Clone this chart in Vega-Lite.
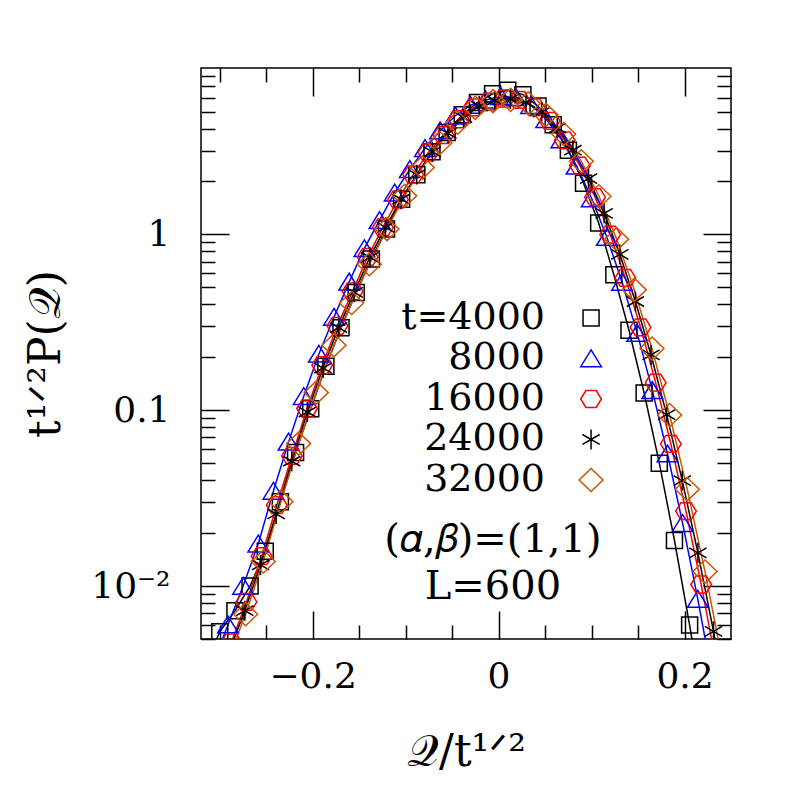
{
  "$schema": "https://vega.github.io/schema/vega-lite/v6.json",
  "width": 530,
  "height": 571,
  "autosize": {"type": "none"},
  "padding": {"left": 201, "top": 68, "right": 66, "bottom": 158},
  "background": "white",
  "config": {
    "view": {"stroke": "#000", "strokeWidth": 1.5},
    "font": "DejaVu Serif",
    "axis": {"domain": false, "grid": false, "tickColor": "#000", "tickWidth": 1.5, "labelFont": "DejaVu Serif", "labelFontSize": 36, "labelColor": "#000", "titleFont": "DejaVu Serif", "titleFontSize": 44, "titleFontWeight": "normal", "titleColor": "#000", "labelFlush": false, "labelOverlap": false}
  },
  "data": {"values": [
    {"t":"4000","q":-0.3161,"p":0.0035},
    {"t":"4000","q":-0.2998,"p":0.0055},
    {"t":"4000","q":-0.2835,"p":0.00724},
    {"t":"4000","q":-0.2672,"p":0.0100},
    {"t":"4000","q":-0.2509,"p":0.0158},
    {"t":"4000","q":-0.2346,"p":0.0302},
    {"t":"4000","q":-0.2183,"p":0.0575},
    {"t":"4000","q":-0.2020,"p":0.102},
    {"t":"4000","q":-0.1857,"p":0.178},
    {"t":"4000","q":-0.1694,"p":0.295},
    {"t":"4000","q":-0.1531,"p":0.468},
    {"t":"4000","q":-0.1368,"p":0.724},
    {"t":"4000","q":-0.1205,"p":1.072},
    {"t":"4000","q":-0.1042,"p":1.585},
    {"t":"4000","q":-0.0879,"p":2.188},
    {"t":"4000","q":-0.0716,"p":2.951},
    {"t":"4000","q":-0.0553,"p":3.802},
    {"t":"4000","q":-0.0390,"p":4.786},
    {"t":"4000","q":-0.0227,"p":5.623},
    {"t":"4000","q":-0.0064,"p":6.310},
    {"t":"4000","q":0.0099,"p":6.607},
    {"t":"4000","q":0.0262,"p":6.237},
    {"t":"4000","q":0.0425,"p":5.370},
    {"t":"4000","q":0.0588,"p":4.207},
    {"t":"4000","q":0.0751,"p":3.006},
    {"t":"4000","q":0.0914,"p":1.954},
    {"t":"4000","q":0.1077,"p":1.161},
    {"t":"4000","q":0.1240,"p":0.589},
    {"t":"4000","q":0.1403,"p":0.285},
    {"t":"4000","q":0.1566,"p":0.1253},
    {"t":"4000","q":0.1729,"p":0.0500},
    {"t":"4000","q":0.1892,"p":0.01816},
    {"t":"4000","q":0.2055,"p":0.0060},
    {"t":"4000","q":0.2218,"p":0.0018},
    {"t":"8000","q":-0.3073,"p":0.0036},
    {"t":"8000","q":-0.2910,"p":0.00603},
    {"t":"8000","q":-0.2747,"p":0.0100},
    {"t":"8000","q":-0.2584,"p":0.0174},
    {"t":"8000","q":-0.2421,"p":0.0347},
    {"t":"8000","q":-0.2258,"p":0.0661},
    {"t":"8000","q":-0.2095,"p":0.120},
    {"t":"8000","q":-0.1932,"p":0.209},
    {"t":"8000","q":-0.1769,"p":0.339},
    {"t":"8000","q":-0.1606,"p":0.537},
    {"t":"8000","q":-0.1443,"p":0.832},
    {"t":"8000","q":-0.1280,"p":1.202},
    {"t":"8000","q":-0.1117,"p":1.726},
    {"t":"8000","q":-0.0954,"p":2.344},
    {"t":"8000","q":-0.0791,"p":3.090},
    {"t":"8000","q":-0.0628,"p":3.890},
    {"t":"8000","q":-0.0465,"p":4.732},
    {"t":"8000","q":-0.0302,"p":5.433},
    {"t":"8000","q":-0.0139,"p":5.821},
    {"t":"8000","q":0.0024,"p":6.095},
    {"t":"8000","q":0.0187,"p":6.012},
    {"t":"8000","q":0.0350,"p":5.427},
    {"t":"8000","q":0.0513,"p":4.519},
    {"t":"8000","q":0.0676,"p":3.467},
    {"t":"8000","q":0.0839,"p":2.452},
    {"t":"8000","q":0.1002,"p":1.600},
    {"t":"8000","q":0.1165,"p":0.964},
    {"t":"8000","q":0.1328,"p":0.536},
    {"t":"8000","q":0.1491,"p":0.2745},
    {"t":"8000","q":0.1654,"p":0.1297},
    {"t":"8000","q":0.1817,"p":0.0566},
    {"t":"8000","q":0.1980,"p":0.02275},
    {"t":"8000","q":0.2143,"p":0.00843},
    {"t":"8000","q":0.2306,"p":0.00288},
    {"t":"16000","q":-0.3037,"p":0.00295},
    {"t":"16000","q":-0.2874,"p":0.00479},
    {"t":"16000","q":-0.2711,"p":0.00813},
    {"t":"16000","q":-0.2548,"p":0.01479},
    {"t":"16000","q":-0.2385,"p":0.02884},
    {"t":"16000","q":-0.2222,"p":0.0550},
    {"t":"16000","q":-0.2059,"p":0.1023},
    {"t":"16000","q":-0.1896,"p":0.1803},
    {"t":"16000","q":-0.1733,"p":0.302},
    {"t":"16000","q":-0.1570,"p":0.474},
    {"t":"16000","q":-0.1407,"p":0.745},
    {"t":"16000","q":-0.1244,"p":1.096},
    {"t":"16000","q":-0.1081,"p":1.578},
    {"t":"16000","q":-0.0918,"p":2.188},
    {"t":"16000","q":-0.0755,"p":2.924},
    {"t":"16000","q":-0.0592,"p":3.673},
    {"t":"16000","q":-0.0429,"p":4.519},
    {"t":"16000","q":-0.0266,"p":5.272},
    {"t":"16000","q":-0.0103,"p":5.689},
    {"t":"16000","q":0.0060,"p":5.929},
    {"t":"16000","q":0.0223,"p":5.821},
    {"t":"16000","q":0.0386,"p":5.281},
    {"t":"16000","q":0.0549,"p":4.426},
    {"t":"16000","q":0.0712,"p":3.428},
    {"t":"16000","q":0.0875,"p":2.459},
    {"t":"16000","q":0.1038,"p":1.629},
    {"t":"16000","q":0.1201,"p":0.998},
    {"t":"16000","q":0.1364,"p":0.5655},
    {"t":"16000","q":0.1527,"p":0.2963},
    {"t":"16000","q":0.1690,"p":0.1435},
    {"t":"16000","q":0.1853,"p":0.0643},
    {"t":"16000","q":0.2016,"p":0.02665},
    {"t":"16000","q":0.2179,"p":0.01021},
    {"t":"16000","q":0.2342,"p":0.00361},
    {"t":"24000","q":-0.3064,"p":0.00257},
    {"t":"24000","q":-0.2896,"p":0.00427},
    {"t":"24000","q":-0.2728,"p":0.00724},
    {"t":"24000","q":-0.2560,"p":0.01318},
    {"t":"24000","q":-0.2392,"p":0.0257},
    {"t":"24000","q":-0.2224,"p":0.0513},
    {"t":"24000","q":-0.2056,"p":0.0977},
    {"t":"24000","q":-0.1888,"p":0.1738},
    {"t":"24000","q":-0.1720,"p":0.295},
    {"t":"24000","q":-0.1552,"p":0.468},
    {"t":"24000","q":-0.1384,"p":0.741},
    {"t":"24000","q":-0.1216,"p":1.096},
    {"t":"24000","q":-0.1048,"p":1.585},
    {"t":"24000","q":-0.0880,"p":2.188},
    {"t":"24000","q":-0.0712,"p":2.951},
    {"t":"24000","q":-0.0544,"p":3.758},
    {"t":"24000","q":-0.0376,"p":4.624},
    {"t":"24000","q":-0.0208,"p":5.370},
    {"t":"24000","q":-0.0040,"p":5.781},
    {"t":"24000","q":0.0128,"p":5.888},
    {"t":"24000","q":0.0296,"p":5.630},
    {"t":"24000","q":0.0464,"p":4.961},
    {"t":"24000","q":0.0632,"p":4.027},
    {"t":"24000","q":0.0800,"p":3.011},
    {"t":"24000","q":0.0968,"p":2.075},
    {"t":"24000","q":0.1136,"p":1.317},
    {"t":"24000","q":0.1304,"p":0.770},
    {"t":"24000","q":0.1472,"p":0.4154},
    {"t":"24000","q":0.1640,"p":0.2063},
    {"t":"24000","q":0.1808,"p":0.0944},
    {"t":"24000","q":0.1976,"p":0.0398},
    {"t":"24000","q":0.2144,"p":0.01546},
    {"t":"24000","q":0.2312,"p":0.00553},
    {"t":"24000","q":0.2480,"p":0.00182},
    {"t":"32000","q":-0.3100,"p":0.0022},
    {"t":"32000","q":-0.2910,"p":0.0038},
    {"t":"32000","q":-0.2720,"p":0.00692},
    {"t":"32000","q":-0.2530,"p":0.0138},
    {"t":"32000","q":-0.2340,"p":0.0302},
    {"t":"32000","q":-0.2150,"p":0.0646},
    {"t":"32000","q":-0.1960,"p":0.126},
    {"t":"32000","q":-0.1770,"p":0.234},
    {"t":"32000","q":-0.1580,"p":0.407},
    {"t":"32000","q":-0.1390,"p":0.676},
    {"t":"32000","q":-0.1200,"p":1.072},
    {"t":"32000","q":-0.1010,"p":1.660},
    {"t":"32000","q":-0.0820,"p":2.399},
    {"t":"32000","q":-0.0630,"p":3.311},
    {"t":"32000","q":-0.0440,"p":4.315},
    {"t":"32000","q":-0.0250,"p":5.248},
    {"t":"32000","q":-0.0060,"p":5.728},
    {"t":"32000","q":0.0130,"p":5.821},
    {"t":"32000","q":0.0320,"p":5.559},
    {"t":"32000","q":0.0510,"p":4.786},
    {"t":"32000","q":0.0700,"p":3.721},
    {"t":"32000","q":0.0890,"p":2.608},
    {"t":"32000","q":0.1080,"p":1.649},
    {"t":"32000","q":0.1270,"p":0.940},
    {"t":"32000","q":0.1460,"p":0.4839},
    {"t":"32000","q":0.1650,"p":0.2245},
    {"t":"32000","q":0.1840,"p":0.0940},
    {"t":"32000","q":0.2030,"p":0.0355},
    {"t":"32000","q":0.2220,"p":0.01209},
    {"t":"32000","q":0.2410,"p":0.00372}
  ]},
  "layer": [
    {
      "mark": {"type": "line", "strokeWidth": 1.5, "clip": true},
      "encoding": {
        "x": {"field": "q", "type": "quantitative", "scale": {"domain": [-0.32, 0.25], "nice": false, "zero": false},
          "axis": {"orient": "bottom", "values": [-0.2, 0, 0.2], "tickSize": -28, "labelPadding": 48, "labelExpr": "datum.value == 0 ? '0' : (datum.value < 0 ? '−0.2' : '0.2')", "title": "𝒬/t¹ᐟ²", "titlePadding": 36}},
        "y": {"field": "p", "type": "quantitative", "scale": {"type": "log", "domain": [0.005, 8.84], "nice": false},
          "axis": {"orient": "left", "values": [0.01, 0.1, 1], "tickSize": -28, "labelPadding": 59, "labelExpr": "datum.value < 0.05 ? '10⁻²' : (datum.value < 0.5 ? '0.1' : '1')", "title": "t¹ᐟ²P(𝒬)", "titlePadding": 22}},
        "stroke": {"field": "t", "type": "nominal", "scale": {"domain": ["4000", "8000", "16000", "24000", "32000"], "range": ["#000000", "#0000ff", "#ff0000", "#000000", "#cc5500"]}, "legend": null}
      }
    },
    {
      "mark": {"type": "point", "filled": false, "strokeWidth": 1.5, "size": 576, "opacity": 1, "clip": true},
      "encoding": {
        "x": {"field": "q", "type": "quantitative", "scale": {"domain": [-0.32, 0.25], "nice": false, "zero": false},
          "axis": {"orient": "bottom", "values": [-0.3, -0.25, -0.15, -0.1, -0.05, 0.05, 0.1, 0.15], "tickSize": -14, "labels": false, "title": null}},
        "y": {"field": "p", "type": "quantitative", "scale": {"type": "log", "domain": [0.005, 8.84], "nice": false},
          "axis": {"orient": "left", "values": [0.005, 0.006, 0.007, 0.008, 0.009, 0.02, 0.03, 0.04, 0.05, 0.06, 0.07, 0.08, 0.09, 0.2, 0.3, 0.4, 0.5, 0.6, 0.7, 0.8, 0.9, 2, 3, 4, 5, 6, 7, 8], "tickSize": -14, "labels": false, "title": null}},
        "color": {"field": "t", "type": "nominal", "scale": {"domain": ["4000", "8000", "16000", "24000", "32000"], "range": ["#000000", "#0000ff", "#ff0000", "#000000", "#cc5500"]}, "legend": null},
        "shape": {"field": "t", "type": "nominal", "scale": {"domain": ["4000", "8000", "16000", "24000", "32000"], "range": [
            "M-0.667,-0.667L0.667,-0.667L0.667,0.667L-0.667,0.667Z",
            "M0,-0.72L0.86,0.68L-0.86,0.68Z",
            "M-0.86,0L-0.43,-0.7L0.43,-0.7L0.86,0L0.43,0.7L-0.43,0.7Z",
            "M0,-0.83L0,0.83M-0.72,-0.415L0.72,0.415M-0.72,0.415L0.72,-0.415",
            "M0,-0.96L1,0L0,0.96L-1,0Z"]}, "legend": null}
      }
    },
    {
      "data": {"values": [{}]},
      "mark": {"type": "text", "text": "(𝛼,𝛽)=(1,1)", "font": "DejaVu Serif", "fontSize": 40, "align": "center", "baseline": "middle", "color": "#000"},
      "encoding": {
        "x": {"datum": -0.006, "type": "quantitative", "scale": {"domain": [-0.32, 0.25], "nice": false, "zero": false},
          "axis": {"orient": "top", "values": [-0.2, 0, 0.2], "tickSize": -28, "labels": false, "title": null}},
        "y": {"datum": 0.0182, "type": "quantitative", "scale": {"type": "log", "domain": [0.005, 8.84], "nice": false},
          "axis": {"orient": "right", "values": [0.01, 0.1, 1], "tickSize": -28, "labels": false, "title": null}}
      }
    },
    {
      "data": {"values": [{}]},
      "mark": {"type": "text", "text": "L=600", "font": "DejaVu Serif", "fontSize": 40, "align": "center", "baseline": "middle", "color": "#000"},
      "encoding": {
        "x": {"datum": -0.006, "type": "quantitative", "scale": {"domain": [-0.32, 0.25], "nice": false, "zero": false},
          "axis": {"orient": "top", "values": [-0.3, -0.25, -0.15, -0.1, -0.05, 0.05, 0.1, 0.15], "tickSize": -14, "labels": false, "title": null}},
        "y": {"datum": 0.00984, "type": "quantitative", "scale": {"type": "log", "domain": [0.005, 8.84], "nice": false},
          "axis": {"orient": "right", "values": [0.005, 0.006, 0.007, 0.008, 0.009, 0.02, 0.03, 0.04, 0.05, 0.06, 0.07, 0.08, 0.09, 0.2, 0.3, 0.4, 0.5, 0.6, 0.7, 0.8, 0.9, 2, 3, 4, 5, 6, 7, 8], "tickSize": -14, "labels": false, "title": null}}
      }
    },
    {
      "data": {"values": [
        {"t": "4000", "label": "t=4000"},
        {"t": "8000", "label": "8000"},
        {"t": "16000", "label": "16000"},
        {"t": "24000", "label": "24000"},
        {"t": "32000", "label": "32000"}
      ]},
      "mark": {"type": "text", "font": "DejaVu Serif", "fontSize": 38, "align": "right", "baseline": "middle", "color": "#000"},
      "encoding": {
        "x": {"datum": 0.050, "type": "quantitative", "scale": {"domain": [-0.32, 0.25], "nice": false, "zero": false}, "axis": null},
        "y": {"datum": 0.3347, "type": "quantitative", "scale": {"type": "log", "domain": [0.005, 8.84], "nice": false}, "axis": null},
        "yOffset": {"field": "t", "type": "nominal", "scale": {"type": "point", "domain": ["4000", "8000", "16000", "24000", "32000"], "range": [0, 162], "padding": 0}},
        "text": {"field": "label", "type": "nominal"}
      }
    },
    {
      "data": {"values": [
        {"t": "4000"},
        {"t": "8000"},
        {"t": "16000"},
        {"t": "24000"},
        {"t": "32000"}
      ]},
      "mark": {"type": "point", "filled": false, "strokeWidth": 1.5, "size": 576, "opacity": 1},
      "encoding": {
        "x": {"datum": 0.0995, "type": "quantitative", "scale": {"domain": [-0.32, 0.25], "nice": false, "zero": false}, "axis": null},
        "y": {"datum": 0.3347, "type": "quantitative", "scale": {"type": "log", "domain": [0.005, 8.84], "nice": false}, "axis": null},
        "yOffset": {"field": "t", "type": "nominal", "scale": {"type": "point", "domain": ["4000", "8000", "16000", "24000", "32000"], "range": [0, 162], "padding": 0}},
        "color": {"field": "t", "type": "nominal", "scale": {"domain": ["4000", "8000", "16000", "24000", "32000"], "range": ["#000000", "#0000ff", "#ff0000", "#000000", "#cc5500"]}, "legend": null},
        "shape": {"field": "t", "type": "nominal", "scale": {"domain": ["4000", "8000", "16000", "24000", "32000"], "range": [
            "M-0.667,-0.667L0.667,-0.667L0.667,0.667L-0.667,0.667Z",
            "M0,-0.72L0.86,0.68L-0.86,0.68Z",
            "M-0.86,0L-0.43,-0.7L0.43,-0.7L0.86,0L0.43,0.7L-0.43,0.7Z",
            "M0,-0.83L0,0.83M-0.72,-0.415L0.72,0.415M-0.72,0.415L0.72,-0.415",
            "M0,-0.96L1,0L0,0.96L-1,0Z"]}, "legend": null}
      }
    }
  ],
  "resolve": {"axis": {"x": "independent", "y": "independent"}}
}
